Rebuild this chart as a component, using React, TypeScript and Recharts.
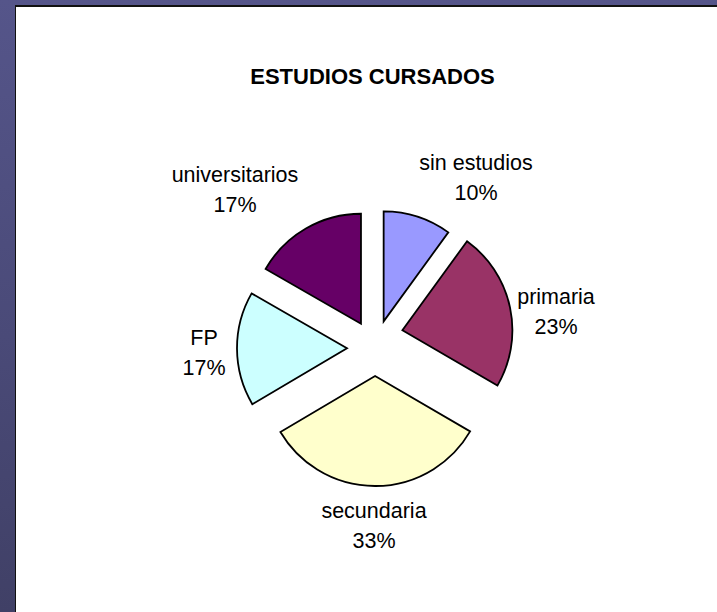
import React from 'react';
import { PieChart, Pie, Sector } from 'recharts';

const title = 'ESTUDIOS CURSADOS';
const categories = ['sin estudios', 'primaria', 'secundaria', 'FP', 'universitarios'];
const values = [10, 23.4, 33.1, 16.8, 16.7];
const colors = ['#9999FF', '#993366', '#FFFFCC', '#CCFFFF', '#660066'];

const data = categories.map((name, i) => ({ name, value: values[i] }));

// styling / layout (not data)
const EXPLODE = 28;
const EXPLODE_ADJUST = [
  [0, 0],
  [0, -12],
  [0, 0],
  [0, 0],
  [0, 0],
];
const LABEL_OFFSETS = [
  [101, -178],
  [181, -44],
  [-1, 170],
  [-171, -3],
  [-140, -166],
];
const LINE_GAP = 30;
const FONT = 'Arial, "Liberation Sans", sans-serif';
const RAD = Math.PI / 180;

function renderSlice(props: any) {
  const { cx, cy, midAngle, outerRadius, startAngle, endAngle, index, percent } = props;
  const adj = EXPLODE_ADJUST[index];
  const dx = EXPLODE * Math.cos(-midAngle * RAD) + adj[0];
  const dy = EXPLODE * Math.sin(-midAngle * RAD) + adj[1];
  const lx = cx + LABEL_OFFSETS[index][0];
  const ly = cy + LABEL_OFFSETS[index][1];
  return (
    <g key={`slice-${index}`}>
      <Sector
        cx={cx + dx}
        cy={cy + dy}
        innerRadius={0}
        outerRadius={outerRadius}
        startAngle={startAngle}
        endAngle={endAngle}
        fill={colors[index]}
        stroke="#000"
        strokeWidth={1.8}
      />
      <text textAnchor="middle" fontFamily={FONT} fontSize={21.5} fill="#000">
        <tspan x={lx} y={ly}>{categories[index]}</tspan>
        <tspan x={lx} y={ly + LINE_GAP}>{`${Math.round(percent * 100)}%`}</tspan>
      </text>
    </g>
  );
}

export default function App() {
  return (
    <div
      style={{
        position: 'fixed',
        left: 0,
        top: 0,
        width: 717,
        height: 612,
        overflow: 'hidden',
        background: 'linear-gradient(to bottom, #55558a 0%, #4a4a78 55%, #404066 100%)',
      }}
    >
      <div
        style={{
          position: 'absolute',
          left: 15,
          top: 5,
          width: 717,
          height: 620,
          background: '#ffffff',
          borderTop: '2px solid #111',
          borderLeft: '1.5px solid #111',
          boxSizing: 'border-box',
        }}
      />
      <svg
        width={717}
        height={612}
        style={{ position: 'absolute', left: 0, top: 0 }}
      >
        <text
          x={372.5}
          y={84}
          textAnchor="middle"
          fontFamily={FONT}
          fontWeight="bold"
          fontSize={22}
          fill="#000"
        >
          {title}
        </text>
      </svg>
      <div style={{ position: 'absolute', left: 0, top: 0 }}>
        <PieChart width={717} height={612} margin={{ top: 0, right: 0, bottom: 0, left: 0 }}>
          <Pie
            data={data}
            dataKey="value"
            nameKey="name"
            cx={375}
            cy={348}
            outerRadius={110}
            startAngle={90}
            endAngle={-270}
            fill="none"
            stroke="none"
            label={renderSlice}
            labelLine={false}
            isAnimationActive={false}
          />
        </PieChart>
      </div>
    </div>
  );
}
